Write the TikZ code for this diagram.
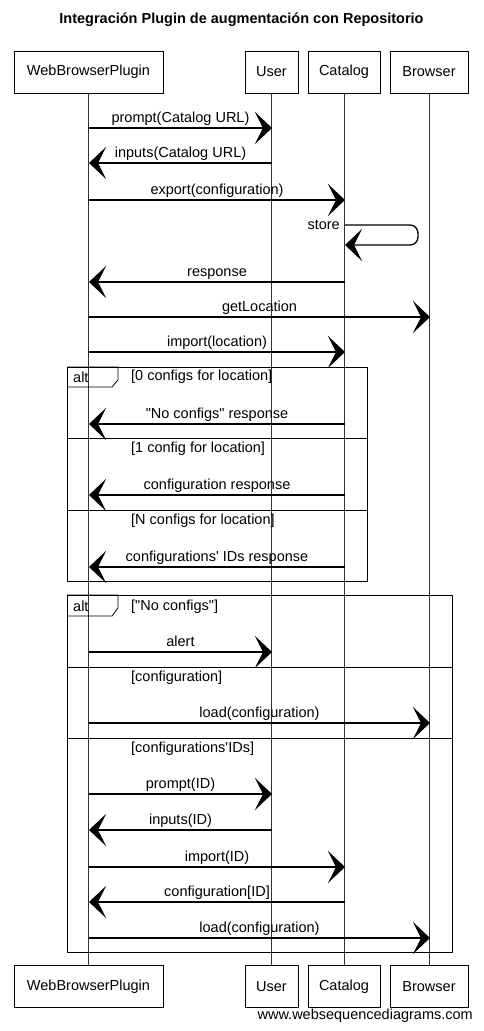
\documentclass[tikz,border=0pt]{standalone}
\usepackage{fontspec}
\setmainfont{Liberation Sans}[Ligatures=TeXOff]
\usetikzlibrary{arrows.meta}
\begin{document}
\begin{tikzpicture}[x=1pt,y=-1pt,
  font=\fontsize{14.5}{17}\selectfont,
  part/.style={draw=black, fill=white, line width=0.8pt, minimum height=42pt, inner sep=0pt},
  life/.style={draw=black!80, line width=0.8pt},
  msg/.style={draw=black, line width=1.3pt, -{Stealth[length=17pt,width=32pt,inset=8pt]}},
  mlabel/.style={anchor=base, inner sep=0pt},
  frame/.style={draw=black, line width=0.8pt},
  guard/.style={anchor=west, inner sep=0pt}]
\useasboundingbox (0,0) rectangle (483,1031);
\fill[white] (0,0) rectangle (483,1031);

\node[font=\fontsize{14.5}{17}\selectfont\bfseries] (title) at (241.5,20) {Integración Plugin de augmentación con Repositorio};

% participants
\node[part, minimum width=149pt] (wbpT) at (88.5,72) {WebBrowserPlugin};
\node[part, minimum width=53pt] (userT) at (271.5,72) {User};
\node[part, minimum width=72pt] (catT) at (344,72) {Catalog};
\node[part, minimum width=78pt] (brT) at (429,72) {Browser};
\node[part, minimum width=149pt] (wbpB) at (88.5,986.5) {WebBrowserPlugin};
\node[part, minimum width=53pt] (userB) at (271.5,986.5) {User};
\node[part, minimum width=72pt] (catB) at (344,986.5) {Catalog};
\node[part, minimum width=78pt] (brB) at (429,986.5) {Browser};

\draw[life] (wbpT.south) -- (wbpB.north);
\draw[life] (userT.south) -- (userB.north);
\draw[life] (catT.south) -- (catB.north);
\draw[life] (brT.south) -- (brB.north);

% messages
\coordinate (w1) at (89,128); \coordinate (u1) at (272,128);
\draw[msg] (w1) -- (u1);
\node[mlabel] (l1) at (180.5,122) {prompt(Catalog URL)};

\coordinate (u2) at (272,163); \coordinate (w2) at (89,163);
\draw[msg] (u2) -- (w2);
\node[mlabel] (l2) at (180.5,157) {inputs(Catalog URL)};

\coordinate (w3) at (89,200); \coordinate (c3) at (345,200);
\draw[msg] (w3) -- (c3);
\node[mlabel] (l3) at (217,194) {export(configuration)};

\coordinate (c4a) at (345,225); \coordinate (c4b) at (345,245);
\draw[msg, rounded corners=8pt] (c4a) -- (418,225) -- (418,245) -- (c4b);
\node[anchor=east, inner sep=0pt] (l4) at (340,225) {store};

\coordinate (c5) at (345,282); \coordinate (w5) at (89,282);
\draw[msg] (c5) -- (w5);
\node[mlabel] (l5) at (217,276) {response};

\coordinate (w6) at (89,317); \coordinate (b6) at (430,317);
\draw[msg] (w6) -- (b6);
\node[mlabel] (l6) at (259.5,311) {getLocation};

\coordinate (w7) at (89,352); \coordinate (c7) at (345,352);
\draw[msg] (w7) -- (c7);
\node[mlabel] (l7) at (217,346) {import(location)};

% alt frame 1
\draw[frame] (67,367) rectangle (367,581);
\draw[frame] (67,367) -- (118,367) -- (118,380) -- (112,387) -- (67,387);
\node[guard] (alt1) at (73,377) {alt};
\node[guard] (g1) at (131,377) {[0 configs for location]};
\draw[frame] (67,438) -- (367,438);
\node[guard] (g2) at (131,449) {[1 config for location]};
\draw[frame] (67,510) -- (367,510);
\node[guard] (g3) at (131,521) {[N configs for location]};

\coordinate (c8) at (345,424); \coordinate (w8) at (89,424);
\draw[msg] (c8) -- (w8);
\node[mlabel] (l8) at (217,418) {"No configs" response};

\coordinate (c9) at (345,495); \coordinate (w9) at (89,495);
\draw[msg] (c9) -- (w9);
\node[mlabel] (l9) at (217,489) {configuration response};

\coordinate (c10) at (345,567); \coordinate (w10) at (89,567);
\draw[msg] (c10) -- (w10);
\node[mlabel] (l10) at (217,561) {configurations' IDs response};

% alt frame 2
\draw[frame] (67,595) rectangle (452,952);
\draw[frame] (67,595) -- (118,595) -- (118,608) -- (112,616) -- (67,616);
\node[guard] (alt2) at (73,606) {alt};
\node[guard] (g4) at (131,607) {["No configs"]};
\draw[frame] (67,667) -- (452,667);
\node[guard] (g5) at (131,678) {[configuration]};
\draw[frame] (67,738) -- (452,738);
\node[guard] (g6) at (131,749) {[configurations'IDs]};

\coordinate (w11) at (89,652); \coordinate (u11) at (272,652);
\draw[msg] (w11) -- (u11);
\node[mlabel] (l11) at (180.5,646) {alert};

\coordinate (w12) at (89,723); \coordinate (b12) at (430,723);
\draw[msg] (w12) -- (b12);
\node[mlabel] (l12) at (259.5,717) {load(configuration)};

\coordinate (w13) at (89,794); \coordinate (u13) at (272,794);
\draw[msg] (w13) -- (u13);
\node[mlabel] (l13) at (180.5,788) {prompt(ID)};

\coordinate (u14) at (272,830); \coordinate (w14) at (89,830);
\draw[msg] (u14) -- (w14);
\node[mlabel] (l14) at (180.5,824) {inputs(ID)};

\coordinate (w15) at (89,867); \coordinate (c15) at (345,867);
\draw[msg] (w15) -- (c15);
\node[mlabel] (l15) at (217,861) {import(ID)};

\coordinate (c16) at (345,902); \coordinate (w16) at (89,902);
\draw[msg] (c16) -- (w16);
\node[mlabel] (l16) at (217,896) {configuration[ID]};

\coordinate (w17) at (89,938); \coordinate (b17) at (430,938);
\draw[msg] (w17) -- (b17);
\node[mlabel] (l17) at (259.5,932) {load(configuration)};

\node[anchor=east, inner sep=0pt] (footer) at (473,1016) {www.websequencediagrams.com};
\end{tikzpicture}
\end{document}
